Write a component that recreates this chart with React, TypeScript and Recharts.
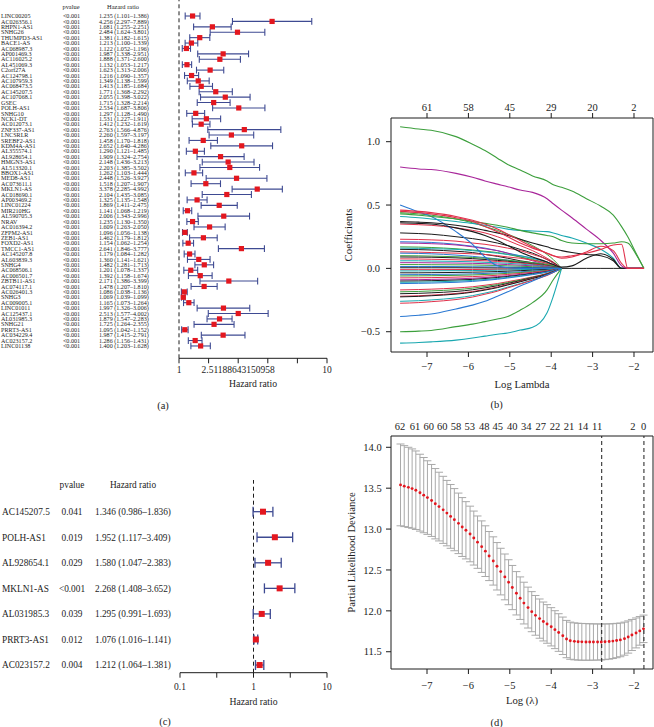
import React from "react";
import {
  ScatterChart,
  Scatter,
  LineChart,
  Line,
  XAxis,
  YAxis,
  ErrorBar,
  ReferenceLine,
  Label,
} from "recharts";

/* ---------------- data: panel (a) univariate Cox ---------------- */
const GENES_A = [
  "LINC00205", "AC026356.1", "RHPN1-AS1", "SNHG26", "THUMPD3-AS1", "BACE1-AS", "AC068987.3", "AP001469.3",
  "AC116025.2", "AL451069.3", "C2orf27A", "AC124798.1", "AC107959.3", "AC068473.5", "AC145207.5", "AC107068.1",
  "GSEC", "POLH-AS1", "SNHG10", "NCK1-DT", "AC012073.1", "ZNF337-AS1", "LNCSRLR", "SREBF2-AS1",
  "KDM4A-AS1", "AL355574.1", "AL928654.1", "HMGN3-AS1", "AL513320.1", "BBOX1-AS1", "MED8-AS1", "AC073611.1",
  "MKLN1-AS", "AC018690.1", "AP003469.2", "LINC01224", "MIR210HG", "AL590705.3", "NRAV", "AC016394.2",
  "ZFPM2-AS1", "ZEB1-AS1", "FOXD2-AS1", "TMCC1-AS1", "AC145207.8", "AL603839.3", "SNHG4", "AC068506.1",
  "AC006501.7", "ZBTB11-AS1", "AC074117.1", "AC026401.3", "SNHG3", "AC009005.1", "LINC01011", "AC125437.1",
  "AL031985.3", "SNHG21", "PRRT3-AS1", "AC034229.4", "AC023157.2", "LINC01138",
];
const PVAL_A = [
  "<0.001", "<0.001", "<0.001", "<0.001", "<0.001", "<0.001", "<0.001", "<0.001", "<0.001", "<0.001",
  "<0.001", "<0.001", "<0.001", "<0.001", "<0.001", "<0.001", "<0.001", "<0.001", "<0.001", "<0.001",
  "<0.001", "<0.001", "<0.001", "<0.001", "<0.001", "<0.001", "<0.001", "<0.001", "<0.001", "<0.001",
  "<0.001", "<0.001", "<0.001", "<0.001", "<0.001", "<0.001", "<0.001", "<0.001", "<0.001", "<0.001",
  "<0.001", "<0.001", "<0.001", "<0.001", "<0.001", "<0.001", "<0.001", "<0.001", "<0.001", "<0.001",
  "<0.001", "<0.001", "<0.001", "<0.001", "<0.001", "<0.001", "<0.001", "<0.001", "<0.001", "<0.001",
  "<0.001", "<0.001",
];
const HR_A = [
  1.235, 4.256, 1.681, 2.484, 1.381, 1.213, 1.122, 1.987, 1.888, 1.132, 1.623, 1.216, 1.349, 1.413, 1.771, 2.055,
  1.715, 2.534, 1.297, 1.531, 1.412, 2.763, 2.26, 1.458, 2.652, 1.29, 1.909, 2.148, 2.203, 1.262, 2.448, 1.518,
  3.378, 2.104, 1.325, 1.869, 1.141, 2.006, 1.235, 1.609, 1.096, 1.462, 1.154, 2.641, 1.179, 1.36, 1.482, 1.201,
  1.392, 2.171, 1.478, 1.086, 1.069, 1.165, 1.997, 2.513, 1.879, 1.725, 1.095, 1.987, 1.286, 1.4,
];
const LO_A = [
  1.101, 2.297, 1.255, 1.624, 1.182, 1.1, 1.052, 1.338, 1.371, 1.053, 1.313, 1.09, 1.138, 1.185, 1.368, 1.398,
  1.328, 1.687, 1.128, 1.227, 1.232, 1.566, 1.597, 1.17, 1.64, 1.121, 1.324, 1.436, 1.385, 1.103, 1.526, 1.207,
  2.285, 1.435, 1.135, 1.411, 1.068, 1.343, 1.13, 1.263, 1.056, 1.179, 1.062, 1.846, 1.084, 1.141, 1.281, 1.078,
  1.158, 1.386, 1.207, 1.038, 1.039, 1.073, 1.326, 1.577, 1.547, 1.264, 1.042, 1.415, 1.156, 1.203,
];
const HI_A = [
  1.386, 7.889, 2.251, 3.801, 1.615, 1.339, 1.196, 2.951, 2.6, 1.217, 2.006, 1.357, 1.599, 1.684, 2.292, 3.022,
  2.214, 3.806, 1.49, 1.911, 1.619, 4.876, 3.197, 1.818, 4.286, 1.485, 2.754, 3.213, 3.502, 1.444, 3.927, 1.907,
  4.992, 3.085, 1.548, 2.475, 1.219, 2.996, 1.35, 2.05, 1.138, 1.812, 1.254, 3.777, 1.282, 1.621, 1.713, 1.337,
  1.674, 3.399, 1.81, 1.136, 1.099, 1.264, 3.006, 4.002, 2.283, 2.355, 1.152, 2.791, 1.431, 1.628,
];
const TICKS_A = [1, 1.584893192, 2.51188643150958, 3.981071706, 6.309573445, 10];
const TICK_LABELS_A = ["1", "", "2.51188643150958", "", "", "10"];

/* ---------------- data: panel (c) multivariate Cox ---------------- */
const GENES_C = ["AC145207.5", "POLH-AS1", "AL928654.1", "MKLN1-AS", "AL031985.3", "PRRT3-AS1", "AC023157.2"];
const PVAL_C = ["0.041", "0.019", "0.029", "<0.001", "0.039", "0.012", "0.004"];
const HR_C = [1.346, 1.952, 1.58, 2.268, 1.295, 1.076, 1.212];
const LO_C = [0.986, 1.117, 1.047, 1.408, 0.991, 1.016, 1.064];
const HI_C = [1.836, 3.409, 2.383, 3.652, 1.693, 1.141, 1.381];
const TICKS_C = [0.1, 0.316227766, 1, 3.16227766, 10];
const TICK_LABELS_C = ["0.1", "", "1", "", "10"];

/* ---------------- data: panel (b) LASSO coefficient paths ---------------- */
const LOG_LAMBDA_B = [
  -7.65, -7.2, -6.9, -6.3, -5.9, -5.6, -5.3, -5.05, -4.75, -4.45, -4.1, -3.95, -3.75, -3.5, -3.15, -2.8, -2.5,
  -2.3, -2.15, -1.95, -1.76,
];
const COEF_BULK = [
  [0.44, 0.43, 0.42, 0.39, 0.36, 0.33, 0.3, 0.27, 0.23, 0.18, 0.11, 0.07, 0],
  [0.35, 0.345, 0.34, 0.32, 0.3, 0.28, 0.25, 0.22, 0.18, 0.14, 0.08, 0.05, 0],
  [0.28, 0.275, 0.27, 0.25, 0.235, 0.22, 0.2, 0.18, 0.15, 0.12, 0.07, 0.045, 0],
  [0.23, 0.228, 0.225, 0.215, 0.2, 0.19, 0.175, 0.16, 0.14, 0.11, 0.07, 0.04, 0],
  [0.21, 0.208, 0.205, 0.19, 0.175, 0.16, 0.14, 0.12, 0.1, 0.08, 0.05, 0.03, 0],
  [0.2, 0.198, 0.195, 0.185, 0.17, 0.155, 0.14, 0.12, 0.09, 0.06, 0.03, 0.015, 0],
  [0.17, 0.168, 0.165, 0.155, 0.145, 0.135, 0.125, 0.11, 0.09, 0.07, 0.04, 0.02, 0],
  [0.16, 0.158, 0.155, 0.15, 0.14, 0.13, 0.12, 0.11, 0.1, 0.08, 0.05, 0.03, 0],
  [0.15, 0.148, 0.145, 0.135, 0.125, 0.11, 0.095, 0.08, 0.06, 0.045, 0.025, 0.01, 0],
  [0.13, 0.128, 0.125, 0.12, 0.115, 0.11, 0.1, 0.09, 0.08, 0.065, 0.04, 0.025, 0],
  [0.12, 0.118, 0.115, 0.105, 0.095, 0.085, 0.075, 0.065, 0.05, 0.035, 0.02, 0.01, 0],
  [0.1, 0.099, 0.097, 0.092, 0.086, 0.08, 0.072, 0.064, 0.055, 0.045, 0.03, 0.02, 0],
  [0.09, 0.089, 0.088, 0.083, 0.077, 0.07, 0.063, 0.056, 0.046, 0.036, 0.02, 0.012, 0],
  [0.075, 0.074, 0.072, 0.068, 0.064, 0.06, 0.055, 0.05, 0.042, 0.033, 0.02, 0.01, 0],
  [0.06, 0.06, 0.058, 0.055, 0.052, 0.048, 0.044, 0.04, 0.034, 0.026, 0.015, 0.008, 0],
  [0.045, 0.045, 0.044, 0.042, 0.04, 0.037, 0.034, 0.03, 0.025, 0.02, 0.012, 0.006, 0],
  [0.03, 0.03, 0.029, 0.028, 0.027, 0.025, 0.023, 0.02, 0.017, 0.013, 0.008, 0.004, 0],
  [0.015, 0.015, 0.015, 0.014, 0.013, 0.012, 0.011, 0.01, 0.008, 0.006, 0.004, 0.002, 0],
  [0.005, 0.005, 0.005, 0.005, 0.004, 0.004, 0.003, 0.003, 0.002, 0.002, 0.001, 0.001, 0, 0, 0, 0, 0, 0, 0, 0, 0],
  [-0.01, -0.01, -0.01, -0.009, -0.009, -0.008, -0.007, -0.006, -0.005, -0.004, -0.002, -0.001, 0],
  [-0.02, -0.02, -0.019, -0.018, -0.017, -0.016, -0.014, -0.012, -0.01, -0.008, -0.005, -0.003, 0],
  [-0.035, -0.035, -0.034, -0.032, -0.03, -0.028, -0.025, -0.022, -0.018, -0.014, -0.008, -0.005, 0],
  [-0.05, -0.049, -0.048, -0.046, -0.043, -0.04, -0.036, -0.032, -0.027, -0.021, -0.013, -0.008, 0],
  [-0.06, -0.059, -0.058, -0.055, -0.052, -0.048, -0.044, -0.039, -0.033, -0.026, -0.016, -0.01, 0],
  [-0.075, -0.074, -0.073, -0.069, -0.065, -0.06, -0.054, -0.048, -0.04, -0.031, -0.019, -0.012, 0],
  [-0.09, -0.089, -0.087, -0.083, -0.078, -0.072, -0.065, -0.058, -0.048, -0.037, -0.023, -0.014, 0],
  [-0.1, -0.099, -0.097, -0.092, -0.087, -0.08, -0.072, -0.064, -0.053, -0.041, -0.025, -0.015, 0],
  [-0.11, -0.109, -0.107, -0.101, -0.095, -0.088, -0.08, -0.071, -0.059, -0.046, -0.028, -0.017, 0],
  [-0.12, -0.118, -0.116, -0.11, -0.103, -0.095, -0.086, -0.076, -0.063, -0.049, -0.03, -0.018, 0],
  [-0.17, -0.167, -0.164, -0.155, -0.145, -0.133, -0.12, -0.105, -0.087, -0.067, -0.04, -0.024, 0],
  [-0.185, -0.182, -0.178, -0.168, -0.156, -0.143, -0.128, -0.112, -0.092, -0.07, -0.042, -0.025, 0],
  [-0.2, -0.197, -0.193, -0.182, -0.169, -0.154, -0.137, -0.119, -0.097, -0.073, -0.044, -0.026, 0],
  [-0.22, -0.216, -0.211, -0.198, -0.183, -0.166, -0.147, -0.127, -0.103, -0.077, -0.046, -0.027, 0],
  [-0.225, -0.221, -0.216, -0.203, -0.188, -0.171, -0.152, -0.131, -0.106, -0.08, -0.048, -0.028, 0],
  [-0.26, -0.255, -0.249, -0.233, -0.215, -0.195, -0.172, -0.148, -0.12, -0.09, -0.054, -0.032, 0],
  [-0.275, -0.27, -0.263, -0.246, -0.226, -0.204, -0.18, -0.154, -0.124, -0.093, -0.056, -0.033, 0],
];
const COEF_MAIN = [
  [0.5, 0.445, 0.41, 0.29, 0.19, 0.09, 0.02, 0.005, 0, 0, 0, 0, 0],
  [-0.59, -0.585, -0.58, -0.566, -0.55, -0.535, -0.52, -0.51, -0.487, -0.465, -0.35, -0.22, 0],
  [-0.5, -0.495, -0.49, -0.46, -0.44, -0.42, -0.4, -0.38, -0.33, -0.27, -0.17, -0.09, 0],
  [-0.38, -0.37, -0.36, -0.32, -0.29, -0.26, -0.22, -0.185, -0.14, -0.1, -0.05, -0.03, 0],
  [0.41, 0.4, 0.39, 0.37, 0.355, 0.34, 0.325, 0.31, 0.3, 0.295, 0.29, 0.28, 0.26, 0.24, 0.2, 0.15, 0.08, 0, 0, 0, 0],
  [0.37, 0.365, 0.36, 0.34, 0.32, 0.3, 0.28, 0.26, 0.23, 0.2, 0.17, 0.155, 0.14, 0.125, 0.11, 0.1, 0.06, 0, 0, 0, 0],
  [0.36, 0.355, 0.35, 0.32, 0.29, 0.26, 0.22, 0.18, 0.13, 0.09, 0.05, 0.03, 0.01, 0.02, 0.08, 0.115, 0.07, 0, 0, 0, 0],
  [0.8, 0.785, 0.78, 0.75, 0.72, 0.69, 0.665, 0.645, 0.618, 0.6, 0.55, 0.51, 0.46, 0.4, 0.31, 0.22, 0.12, 0.02, 0, 0, 0],
  [0.43, 0.42, 0.41, 0.39, 0.37, 0.355, 0.34, 0.325, 0.3, 0.28, 0.26, 0.25, 0.22, 0.2, 0.195, 0.195, 0.2, 0.21, 0.2, 0.11, 0],
  [1.118, 1.1, 1.09, 1.04, 0.98, 0.93, 0.87, 0.82, 0.776, 0.73, 0.69, 0.66, 0.64, 0.61, 0.55, 0.49, 0.42, 0.33, 0.25, 0.12, 0],
  [0.46, 0.45, 0.44, 0.41, 0.38, 0.35, 0.31, 0.27, 0.22, 0.17, 0.12, 0.1, 0.08, 0.09, 0.13, 0.175, 0.14, 0.04, 0, 0, 0],
  [0.45, 0.44, 0.43, 0.4, 0.37, 0.33, 0.29, 0.25, 0.2, 0.16, 0.12, 0.1, 0.09, 0.1, 0.12, 0.15, 0.185, 0.19, 0, 0, 0],
];
const COEF_TICKS = [-0.5, 0, 0.5, 1];
const LAMBDA_TICKS = [-7, -6, -5, -4, -3, -2];
const DF_B = ["61", "58", "45", "29", "20", "2"];

/* ---------------- data: panel (d) cross-validation ---------------- */
const LOG_LAMBDA_D = [
  -7.64, -7.55, -7.45, -7.36, -7.27, -7.17, -7.08, -6.99, -6.89, -6.8, -6.71, -6.61, -6.52, -6.43, -6.34, -6.24,
  -6.15, -6.06, -5.96, -5.87, -5.78, -5.68, -5.59, -5.5, -5.4, -5.31, -5.22, -5.12, -5.03, -4.94, -4.84, -4.75,
  -4.66, -4.56, -4.47, -4.38, -4.28, -4.19, -4.1, -4.0, -3.91, -3.82, -3.72, -3.63, -3.54, -3.44, -3.35, -3.26,
  -3.16, -3.07, -2.98, -2.88, -2.79, -2.7, -2.6, -2.51, -2.42, -2.33, -2.23, -2.14, -2.05, -1.95, -1.86, -1.77,
];
const DEVIANCE_D = [
  13.54, 13.525, 13.51, 13.495, 13.475, 13.445, 13.415, 13.385, 13.35, 13.31, 13.275, 13.235, 13.195, 13.155,
  13.115, 13.07, 13.025, 12.985, 12.94, 12.89, 12.84, 12.785, 12.73, 12.67, 12.61, 12.545, 12.48, 12.415, 12.35,
  12.285, 12.215, 12.155, 12.095, 12.04, 11.99, 11.945, 11.905, 11.87, 11.84, 11.805, 11.77, 11.735, 11.695,
  11.655, 11.635, 11.627, 11.623, 11.621, 11.62, 11.619, 11.619, 11.619, 11.62, 11.622, 11.625, 11.63, 11.637,
  11.645, 11.66, 11.68, 11.705, 11.73, 11.755, 11.78,
];
const SE_D = [
  0.5, 0.495, 0.49, 0.485, 0.48, 0.47, 0.46, 0.45, 0.44, 0.43, 0.42, 0.41, 0.4, 0.39, 0.38, 0.37, 0.36, 0.35, 0.34,
  0.33, 0.32, 0.315, 0.31, 0.3, 0.295, 0.29, 0.285, 0.28, 0.275, 0.27, 0.265, 0.26, 0.255, 0.25, 0.245, 0.243,
  0.24, 0.238, 0.236, 0.234, 0.232, 0.23, 0.229, 0.228, 0.227, 0.226, 0.225, 0.225, 0.224, 0.223, 0.222, 0.221,
  0.22, 0.218, 0.216, 0.213, 0.21, 0.206, 0.202, 0.197, 0.19, 0.183, 0.175, 0.168,
];
const DF_AT_D = [-7.65, -7.29, -6.96, -6.63, -6.3, -5.97, -5.62, -5.29, -4.94, -4.6, -4.25, -3.91, -3.57, -3.23, -2.89, -2.03, -1.77];
const DF_D = ["62", "61", "60", "60", "58", "53", "48", "45", "40", "34", "27", "22", "21", "14", "11", "2", "0"];
const LAMBDA_MIN = -2.78;
const LAMBDA_1SE = -1.76;
const DEV_TICKS = [11.5, 12, 12.5, 13, 13.5, 14];

/* ---------------- styles ---------------- */
const FONT = '"Liberation Serif", "Times New Roman", Times, serif';
const INK = "#1c1c1c";
const RED = "#e3171f";
const NAVY = "#3e4a92";
const K = "#1b1b1b";
const R = "#e0304a";
const G = "#3c9f3c";
const B = "#2a78d2";
const T = "#1aa8b0";
const P = "#a8269a";
const BULK_COLORS = [G, R, K, R, B, P, G, T, K, R, B, G, K, R, T, P, G, B, K, R, T, K, B, G, R, P, K, T, B, R, G, K, R, K, T, R];
const MAIN_COLORS = [B, T, G, B, T, K, K, P, G, G, R, R];

const minus = (v: number) => (v < 0 ? "\u2212" + Math.abs(v) : String(v));
const fmtHR = (h: number, l: number, u: number) => `${h.toFixed(3)} (${l.toFixed(3)}\u2013${u.toFixed(3)})`;

function Txt(props: { x: number; y: number; size: number; children: React.ReactNode }) {
  return (
    <div
      style={{
        position: "absolute",
        left: props.x,
        top: props.y,
        transform: "translate(-50%, -50%)",
        fontFamily: FONT,
        fontSize: props.size,
        lineHeight: 1,
        whiteSpace: "nowrap",
        color: INK,
      }}
    >
      {props.children}
    </div>
  );
}

const Nothing = () => <g />;

/* ---------------- panel (a) ---------------- */
function RowTickA(props: any) {
  const { y, payload } = props;
  const i = payload.value as number;
  const c = { y, dy: "0.35em", fontSize: 6.1, fontFamily: FONT, fill: INK };
  return (
    <g>
      <text x={1} {...c}>{GENES_A[i]}</text>
      <text x={71.5} textAnchor="middle" {...c}>{PVAL_A[i]}</text>
      <text x={99} {...c}>{fmtHR(HR_A[i], LO_A[i], HI_A[i])}</text>
    </g>
  );
}

function PanelA() {
  const rows = GENES_A.map((_, i) => ({ idx: i, hr: HR_A[i], err: [HR_A[i] - LO_A[i], HI_A[i] - HR_A[i]] }));
  return (
    <ScatterChart width={340} height={395} margin={{ top: 0, right: 13, bottom: 0, left: 0 }}>
      <XAxis
        type="number"
        dataKey="hr"
        scale="log"
        domain={[1, 10]}
        allowDataOverflow
        ticks={TICKS_A}
        interval={0}
        tickFormatter={(v: number) => TICK_LABELS_A[TICKS_A.indexOf(v)]}
        tickSize={5}
        tickMargin={2.6}
        height={36.7}
        stroke={INK}
        tick={{ fontSize: 9.5, fontFamily: FONT, fill: INK }}
      >
        <Label value="Hazard ratio" position="insideBottom" offset={7.7} fontSize={9.7} fontFamily={FONT} fill={INK} />
      </XAxis>
      <YAxis
        type="number"
        dataKey="idx"
        domain={[-2.96, 63.28]}
        reversed
        allowDataOverflow
        ticks={rows.map((r) => r.idx)}
        interval={0}
        width={179}
        axisLine={false}
        tickLine={false}
        tick={(p: any) => <RowTickA {...p} />}
      />
      <ReferenceLine x={1} stroke={INK} strokeDasharray="4 3" strokeWidth={1} />
      <Scatter
        data={rows}
        isAnimationActive={false}
        shape={(p: any) => <rect x={p.cx - 2.6} y={p.cy - 2.6} width={5.2} height={5.2} fill={RED} />}
      >
        <ErrorBar dataKey="err" direction="x" width={3.4} stroke={NAVY} strokeWidth={1.1} />
      </Scatter>
    </ScatterChart>
  );
}

/* ---------------- panel (c) ---------------- */
function RowTickC(props: any) {
  const { y, payload } = props;
  const i = payload.value as number;
  const c = { y, dy: "0.35em", fontSize: 9.3, fontFamily: FONT, fill: INK };
  return (
    <g>
      <text x={2} {...c}>{GENES_C[i]}</text>
      <text x={72} textAnchor="middle" {...c}>{PVAL_C[i]}</text>
      <text x={95} {...c}>{fmtHR(HR_C[i], LO_C[i], HI_C[i])}</text>
    </g>
  );
}

function PanelC() {
  const rows = GENES_C.map((_, i) => ({ idx: i, hr: HR_C[i], err: [HR_C[i] - LO_C[i], HI_C[i] - HR_C[i]] }));
  return (
    <ScatterChart width={340} height={250} margin={{ top: 10, right: 13, bottom: 0, left: 0 }}>
      <XAxis
        type="number"
        dataKey="hr"
        scale="log"
        domain={[0.1, 10]}
        allowDataOverflow
        ticks={TICKS_C}
        interval={0}
        tickFormatter={(v: number) => TICK_LABELS_C[TICKS_C.indexOf(v)]}
        tickSize={5}
        tickMargin={5.6}
        height={47.3}
        stroke={INK}
        tick={{ fontSize: 9.5, fontFamily: FONT, fill: INK }}
      >
        <Label value="Hazard ratio" position="insideBottom" offset={15} fontSize={9.7} fontFamily={FONT} fill={INK} />
      </XAxis>
      <YAxis
        type="number"
        dataKey="idx"
        domain={[-1.24, 6.3]}
        reversed
        allowDataOverflow
        ticks={rows.map((r) => r.idx)}
        interval={0}
        width={180}
        axisLine={false}
        tickLine={false}
        tick={(p: any) => <RowTickC {...p} />}
      />
      <ReferenceLine x={1} stroke={INK} strokeDasharray="4 3" strokeWidth={1} />
      <Scatter
        data={rows}
        isAnimationActive={false}
        shape={(p: any) => <rect x={p.cx - 3} y={p.cy - 3} width={6} height={6} fill={RED} />}
      >
        <ErrorBar dataKey="err" direction="x" width={5} stroke={NAVY} strokeWidth={1.3} />
      </Scatter>
    </ScatterChart>
  );
}

/* ---------------- panel (b) ---------------- */
const tickStyleR = { fontSize: 10.5, fontFamily: FONT, fill: INK };

function PanelB() {
  const bulk = COEF_BULK.map((vals) => vals.map((v, i) => ({ x: LOG_LAMBDA_B[i], y: v })));
  const main = COEF_MAIN.map((vals) => vals.map((v, i) => ({ x: LOG_LAMBDA_B[i], y: v })));
  return (
    <LineChart width={324} height={300} margin={{ top: 0, right: 0, bottom: 0, left: 0 }}>
      <XAxis
        xAxisId="b"
        type="number"
        dataKey="x"
        domain={[-7.87, -1.541]}
        allowDataOverflow
        ticks={LAMBDA_TICKS}
        interval={0}
        tickFormatter={minus}
        tickSize={5}
        tickMargin={5.9}
        height={38}
        stroke={INK}
        tick={tickStyleR}
      >
        <Label value="Log Lambda" position="insideBottom" offset={2} fontSize={10.7} fontFamily={FONT} fill={INK} />
      </XAxis>
      <XAxis
        xAxisId="top"
        orientation="top"
        type="number"
        dataKey="x"
        domain={[-7.87, -1.541]}
        allowDataOverflow
        ticks={LAMBDA_TICKS}
        interval={0}
        tickFormatter={(v: number) => DF_B[LAMBDA_TICKS.indexOf(v)]}
        tickSize={5}
        tickMargin={2.3}
        height={28}
        stroke={INK}
        tick={tickStyleR}
      />
      <YAxis
        yAxisId="l"
        type="number"
        domain={[-0.66, 1.187]}
        allowDataOverflow
        ticks={COEF_TICKS}
        interval={0}
        tickFormatter={(v: number) => (v < 0 ? "\u2212" : "") + Math.abs(v).toFixed(1)}
        tickSize={5}
        tickMargin={6}
        width={61}
        stroke={INK}
        tick={tickStyleR}
      >
        <Label
          value="Coefficients"
          angle={-90}
          position="insideLeft"
          offset={18.3}
          style={{ textAnchor: "middle" }}
          fontSize={10.9}
          fontFamily={FONT}
          fill={INK}
        />
      </YAxis>
      <YAxis
        yAxisId="r"
        orientation="right"
        type="number"
        domain={[-0.66, 1.187]}
        allowDataOverflow
        tick={false}
        tickLine={false}
        width={1}
        stroke={INK}
      />
      {bulk.map((d, k) => (
        <Line
          key={"b" + k}
          xAxisId="b"
          yAxisId="l"
          data={d}
          dataKey="y"
          type="monotone"
          dot={false}
          stroke={BULK_COLORS[k]}
          strokeWidth={1}
          isAnimationActive={false}
        />
      ))}
      {main.map((d, k) => (
        <Line
          key={"m" + k}
          xAxisId="b"
          yAxisId="l"
          data={d}
          dataKey="y"
          type="monotone"
          dot={false}
          stroke={MAIN_COLORS[k]}
          strokeWidth={1.1}
          isAnimationActive={false}
        />
      ))}
      <Line
        xAxisId="top"
        yAxisId="r"
        data={main[9]}
        dataKey="y"
        stroke="none"
        dot={false}
        activeDot={false}
        legendType="none"
        isAnimationActive={false}
      />
    </LineChart>
  );
}

/* ---------------- panel (d) ---------------- */
function PanelD() {
  const pts = LOG_LAMBDA_D.map((x, i) => ({ x, dev: DEVIANCE_D[i], se: SE_D[i] }));
  return (
    <ScatterChart width={324} height={300} margin={{ top: 0, right: 0, bottom: 0, left: 0 }}>
      <XAxis
        xAxisId="b"
        type="number"
        dataKey="x"
        domain={[-7.87, -1.541]}
        allowDataOverflow
        ticks={LAMBDA_TICKS}
        interval={0}
        tickFormatter={minus}
        tickSize={5}
        tickMargin={7.2}
        height={41}
        stroke={INK}
        tick={tickStyleR}
      >
        <Label value="Log (λ)" position="insideBottom" offset={5.8} fontSize={10.7} fontFamily={FONT} fill={INK} />
      </XAxis>
      <XAxis
        xAxisId="top"
        orientation="top"
        type="number"
        dataKey="x"
        domain={[-7.87, -1.541]}
        allowDataOverflow
        ticks={DF_AT_D}
        interval={0}
        tickFormatter={(v: number) => DF_D[DF_AT_D.indexOf(v)]}
        tickSize={0}
        tickLine={false}
        tickMargin={6.3}
        height={26}
        stroke={INK}
        tick={tickStyleR}
      />
      <YAxis
        yAxisId="l"
        type="number"
        dataKey="dev"
        domain={[11.289, 14.138]}
        allowDataOverflow
        ticks={DEV_TICKS}
        interval={0}
        tickFormatter={(v: number) => v.toFixed(1)}
        tickSize={5}
        tickMargin={4.3}
        width={61}
        stroke={INK}
        tick={tickStyleR}
      >
        <Label
          value="Partial Likelihood Deviance"
          angle={-90}
          position="insideLeft"
          offset={21}
          style={{ textAnchor: "middle" }}
          fontSize={10.7}
          fontFamily={FONT}
          fill={INK}
        />
      </YAxis>
      <YAxis
        yAxisId="r"
        orientation="right"
        type="number"
        dataKey="dev"
        domain={[11.289, 14.138]}
        allowDataOverflow
        tick={false}
        tickLine={false}
        width={1}
        stroke={INK}
      />
      <Scatter
        xAxisId="b"
        yAxisId="l"
        data={pts}
        isAnimationActive={false}
        shape={(p: any) => <circle cx={p.cx} cy={p.cy} r={1.45} fill={RED} />}
      >
        <ErrorBar dataKey="se" direction="y" width={4} stroke="#a9a9a9" strokeWidth={1} />
      </Scatter>
      <Scatter xAxisId="top" yAxisId="r" data={pts} isAnimationActive={false} shape={Nothing} legendType="none" />
      <ReferenceLine xAxisId="b" yAxisId="l" x={LAMBDA_MIN} stroke={INK} strokeDasharray="4 3" />
      <ReferenceLine xAxisId="b" yAxisId="l" x={LAMBDA_1SE} stroke={INK} strokeDasharray="4 3" />
    </ScatterChart>
  );
}

export default function App() {
  return (
    <div
      style={{
        position: "absolute",
        left: 0,
        top: 0,
        width: 654,
        height: 727,
        background: "#fff",
        overflow: "hidden",
        fontFamily: FONT,
      }}
    >
      <div style={{ position: "absolute", left: 0, top: 0 }}>
        <PanelA />
      </div>
      <Txt x={71} y={6.7} size={6.4}>pvalue</Txt>
      <Txt x={123} y={6.7} size={6.4}>Hazard ratio</Txt>
      <Txt x={163} y={406} size={10.5}>(a)</Txt>

      <div style={{ position: "absolute", left: 330, top: 90 }}>
        <PanelB />
      </div>
      <Txt x={496.7} y={405} size={10.5}>(b)</Txt>

      <div style={{ position: "absolute", left: 0, top: 470 }}>
        <PanelC />
      </div>
      <Txt x={72} y={486} size={9.3}>pvalue</Txt>
      <Txt x={133} y={486} size={9.3}>Hazard ratio</Txt>
      <Txt x={165} y={721.7} size={10.5}>(c)</Txt>

      <div style={{ position: "absolute", left: 330, top: 410 }}>
        <PanelD />
      </div>
      <Txt x={496.7} y={722.7} size={10.5}>(d)</Txt>
    </div>
  );
}
